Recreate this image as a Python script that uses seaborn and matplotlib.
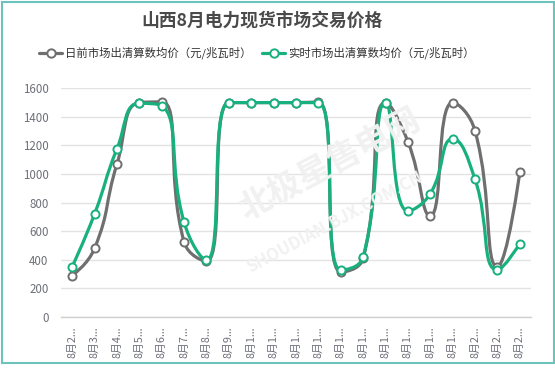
import numpy as np
import pandas as pd
import matplotlib
matplotlib.use("Agg")
import matplotlib.pyplot as plt
import seaborn as sns
from matplotlib.path import Path
from matplotlib.patches import PathPatch, Rectangle
from matplotlib.lines import Line2D

# ---------------- data ----------------
dates = ["8月2日", "8月3日", "8月4日", "8月5日", "8月6日", "8月7日", "8月8日",
         "8月9日", "8月10日", "8月11日", "8月12日", "8月13日", "8月14日",
         "8月15日", "8月16日", "8月17日", "8月18日", "8月19日", "8月20日",
         "8月21日", "8月22日"]
day_ahead = [290, 480, 1070, 1500, 1505, 525, 390, 1500, 1500, 1500, 1500,
             1505, 315, 410, 1500, 1227, 707, 1500, 1302, 352, 1013]
real_time = [352, 721, 1176, 1495, 1478, 663, 397, 1500, 1500, 1500, 1500,
             1500, 329, 420, 1500, 742, 863, 1246, 963, 329, 513]
series_names = ["日前市场出清算数均价（元/兆瓦时）", "实时市场出清算数均价（元/兆瓦时）"]
colors = ["#6f6f6f", "#19b07f"]
title = "山西8月电力现货市场交易价格"
yticks = [0, 200, 400, 600, 800, 1000, 1200, 1400, 1600]

# ---------------- style ----------------
sns.set_style("white")
plt.rcParams["font.family"] = ["Noto Sans CJK SC", "DejaVu Sans"]

W, H = 555, 373
fig = plt.figure(figsize=(W / 100, H / 100), dpi=100)
fig.patch.set_facecolor("white")

# outer frame
fig.add_artist(Rectangle((1.5 / W, 1 - 362.5 / H), 552 / W, 361 / H,
                         transform=fig.transFigure, fill=False,
                         edgecolor="#6cc3bb", linewidth=1.5))

ax_l, ax_r, ax_t, ax_b = 61, 531, 88.3, 317
ax = fig.add_axes([ax_l / W, 1 - ax_b / H, (ax_r - ax_l) / W, (ax_b - ax_t) / H])
n = len(dates)
ax.set_xlim(-0.5, n - 0.5)
ax.set_ylim(0, 1600)

# grid
ax.set_yticks(yticks)
ax.yaxis.grid(True, color="#e3e3e3", linewidth=1)
ax.xaxis.grid(False)
for s in ["top", "right", "left"]:
    ax.spines[s].set_visible(False)
ax.spines["bottom"].set_color("#d0d0d0")
ax.spines["bottom"].set_linewidth(1)
ax.tick_params(axis="y", length=0, pad=9, labelsize=8.3, labelcolor="#6e7079")
ax.set_xticks(range(n))
ax.set_xticklabels([d[:3] + "..." for d in dates], rotation=90,
                   fontsize=7.8, color="#6e7079")
ax.tick_params(axis="x", length=0, pad=7)
ax.set_facecolor("none")

# watermark (faint)
fig.text(330 / W, 1 - 165 / H, "北极星售电网", rotation=28, fontsize=24,
         fontweight="bold", color="#f1f1f1", ha="center", va="center", zorder=0)
fig.text(335 / W, 1 - 222 / H, "SHOUDIAN.BJX.COM.CN", rotation=28, fontsize=12,
         fontweight="bold", color="#f1f1f1", ha="center", va="center", zorder=0)


def echarts_smooth(px, py, smooth=0.5):
    verts = [(px[0], py[0])]
    codes = [Path.MOVETO]
    cpx0, cpy0 = px[0], py[0]
    prevX, prevY = px[0], py[0]
    m = len(px)
    for i in range(1, m):
        x, y = px[i], py[i]
        if i == m - 1:
            cpx1, cpy1 = x, y
            ncx, ncy = x, y
        else:
            nextX, nextY = px[i + 1], py[i + 1]
            vx = nextX - prevX
            vy = nextY - prevY
            l0 = np.hypot(x - prevX, y - prevY)
            l1 = np.hypot(nextX - x, nextY - y)
            r = l1 / (l1 + l0)
            ncx = x + vx * smooth * r
            ncy = y + vy * smooth * r
            ncx = min(ncx, max(nextX, x)); ncy = min(ncy, max(nextY, y))
            ncx = max(ncx, min(nextX, x)); ncy = max(ncy, min(nextY, y))
            vx = ncx - x; vy = ncy - y
            cpx1 = x - vx * l0 / l1; cpy1 = y - vy * l0 / l1
            cpx1 = min(cpx1, max(prevX, x)); cpy1 = min(cpy1, max(prevY, y))
            cpx1 = max(cpx1, min(prevX, x)); cpy1 = max(cpy1, min(prevY, y))
            vx = x - cpx1; vy = y - cpy1
            ncx = x + vx * l1 / l0; ncy = y + vy * l1 / l0
        verts += [(cpx0, cpy0), (cpx1, cpy1), (x, y)]
        codes += [Path.CURVE4] * 3
        cpx0, cpy0 = ncx, ncy
        prevX, prevY = x, y
    return verts, codes


df = pd.DataFrame({"idx": list(range(n)) * 2,
                   "value": day_ahead + real_time,
                   "series": [series_names[0]] * n + [series_names[1]] * n})

for k, (vals, name) in enumerate(zip([day_ahead, real_time], series_names)):
    disp = ax.transData.transform(np.column_stack([np.arange(n), vals]))
    verts, codes = echarts_smooth(disp[:, 0], disp[:, 1])
    data_verts = ax.transData.inverted().transform(np.array(verts))
    patch = PathPatch(Path(data_verts, codes), facecolor="none",
                      edgecolor=colors[k], linewidth=2.3, zorder=3 + 2 * k,
                      capstyle="round", joinstyle="round")
    ax.add_patch(patch)
    sub = df[df["series"] == name]
    sns.scatterplot(data=sub, x="idx", y="value", ax=ax, s=34, color="white",
                    edgecolor=colors[k], linewidth=1.4, zorder=4 + 2 * k,
                    legend=False, clip_on=False)

ax.set_xlabel("")
ax.set_ylabel("")
ax.set_xlim(-0.5, n - 0.5)
ax.set_ylim(0, 1600)

# title
fig.text(262 / W, 1 - 22 / H, title, fontsize=12.8, fontweight="bold",
         color="#4a4a4a", ha="center", va="center")

# legend
handles = [Line2D([0], [0], color=c, linewidth=2.3, marker="o", markersize=6,
                  markerfacecolor="white", markeredgecolor=c, markeredgewidth=1.4)
           for c in colors]
fig.legend(handles, series_names, loc="center", bbox_to_anchor=(257 / W, 1 - 53 / H),
           ncol=2, frameon=False, fontsize=8.2, handlelength=2.0,
           handletextpad=0.3, columnspacing=0.9, labelcolor="#333333")

fig.savefig("out.png", dpi=100, facecolor="white")
